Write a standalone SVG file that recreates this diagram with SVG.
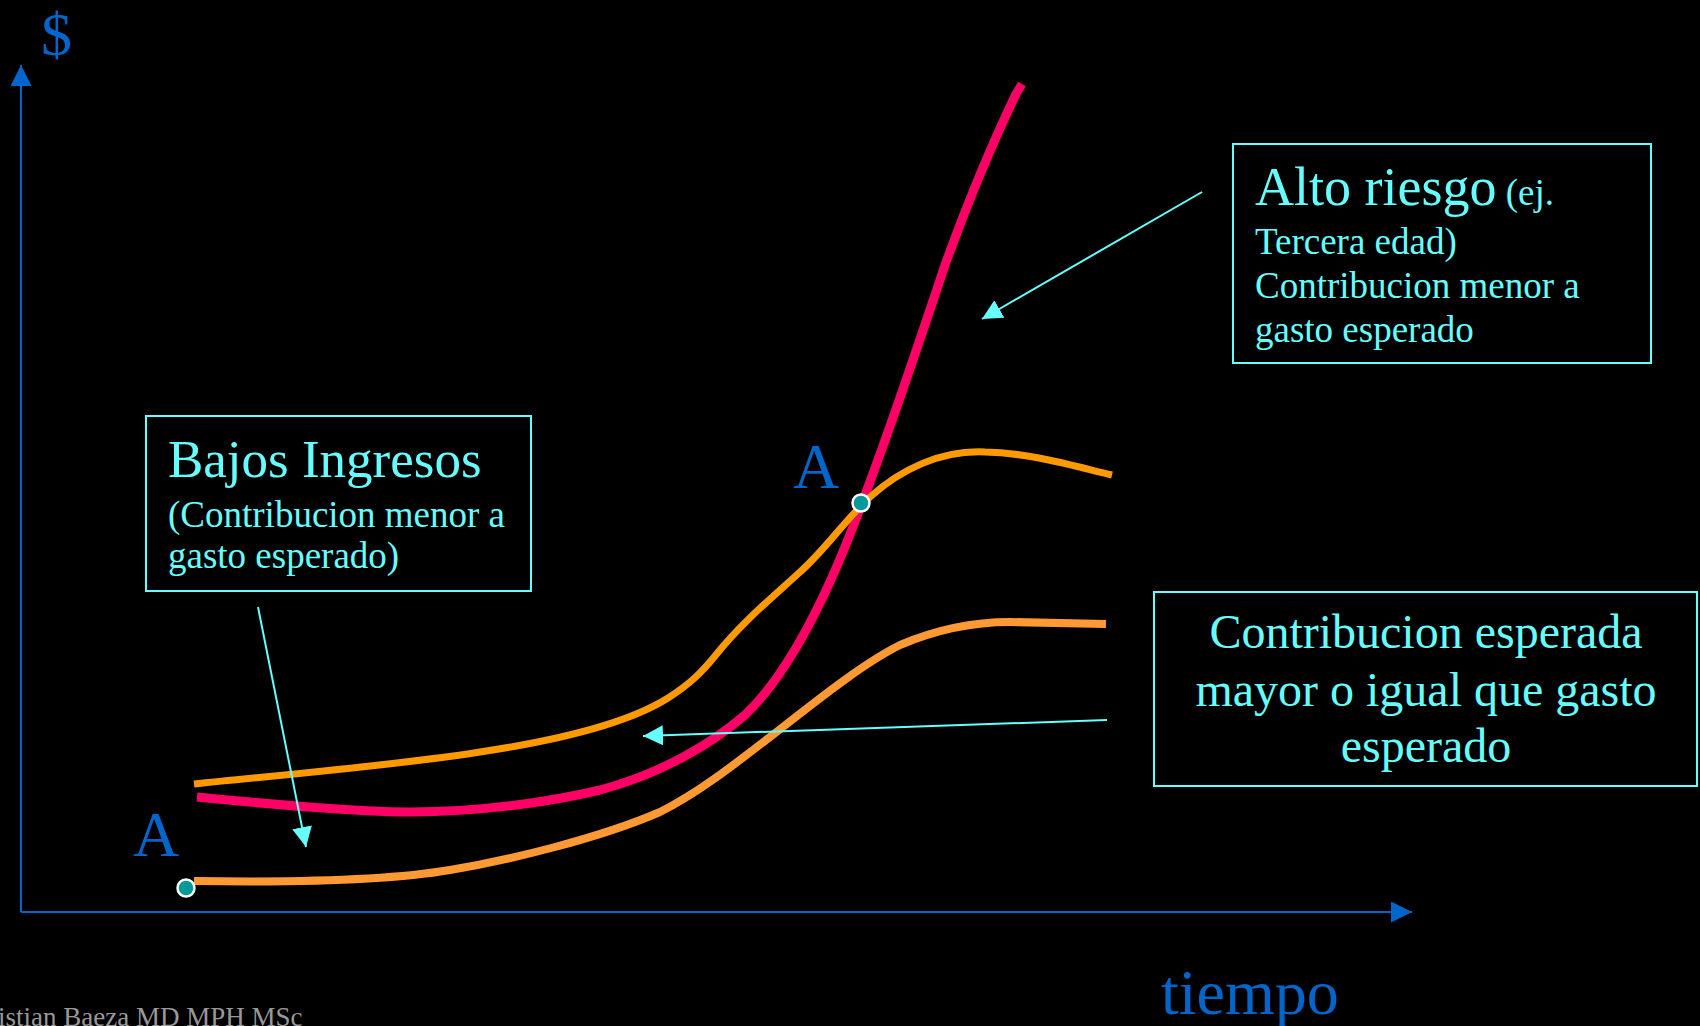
<svg xmlns="http://www.w3.org/2000/svg" width="1700" height="1026" viewBox="0 0 1700 1026">
  <style>
    .serif { font-family: "Liberation Serif", "Times New Roman", serif; }
    .blue { fill: #0066CC; }
    .cyan { fill: #66FFFF; }
    .box { fill: none; stroke: #66FFFF; stroke-width: 2; }
    .axis { stroke: #0066CC; stroke-width: 2; fill: none; }
    .lead { stroke: #66FFFF; stroke-width: 2; fill: none; }
    .curve { fill: none; stroke-linecap: butt; stroke-linejoin: round; }
    .dot { fill: #009999; stroke: #FFFFFF; stroke-width: 2.5; }
  </style>
  <defs>
    <marker id="cyanHead" markerUnits="userSpaceOnUse" markerWidth="21" markerHeight="21" refX="20" refY="10" orient="auto">
      <path d="M0,0 L20,10 L0,20 Z" fill="#66FFFF"/>
    </marker>
    <marker id="blueHead" markerUnits="userSpaceOnUse" markerWidth="22" markerHeight="22" refX="21" refY="10.5" orient="auto">
      <path d="M0,0 L21,10.5 L0,21 Z" fill="#0066CC"/>
    </marker>
  </defs>
  <rect x="0" y="0" width="1700" height="1026" fill="#000000"/>

  <g id="axes">
    <path class="axis" d="M21,912 L21,65" marker-end="url(#blueHead)"/>
    <path class="axis" d="M21,912 L1412,912" marker-end="url(#blueHead)"/>
    <text class="serif blue" x="41" y="55" font-size="62">$</text>
    <text class="serif blue" x="1161" y="1014" font-size="64">tiempo</text>
  </g>

  <g id="curves">
    <path id="curve-bottom" class="curve" stroke="#FF9933" stroke-width="8" d="M194,881 C260,882 380,882 450,870 C510,860 600,838 660,812 C700,792 740,760 770,737 C810,706 860,665 900,645 C940,628 980,622 1010,622 L1106,624"/>
    <path id="curve-pink" class="curve" stroke="#FF0066" stroke-width="9" d="M197,797 C260,803 350,812 410,812 C480,812 550,802 600,790 C660,774 710,745 745,715 C790,672 830,590 862,503 C890,430 920,340 945,265 C965,210 990,148 1016,94 L1022,84"/>
    <path id="curve-top" class="curve" stroke="#FF9900" stroke-width="7" d="M194,784 C280,775 400,765 480,752 C560,740 630,722 668,698 C690,684 702,672 715,656 C742,622 775,595 800,572 C825,550 845,520 870,497 C900,470 940,450 985,452 C1030,453 1070,465 1112,475"/>
  </g>

  <g id="point-a-low">
    <circle class="dot" cx="186" cy="888" r="8.5"/>
    <text class="serif blue" x="133" y="856" font-size="64">A</text>
  </g>
  <g id="point-a-mid">
    <circle class="dot" cx="861" cy="503" r="8.5"/>
    <text class="serif blue" x="793" y="488" font-size="64">A</text>
  </g>

  <g id="box-alto-riesgo">
    <rect class="box" x="1233" y="144" width="418" height="219"/>
    <text class="serif cyan" x="1255" y="205"><tspan font-size="54">Alto riesgo</tspan><tspan font-size="37"> (ej.</tspan></text>
    <text class="serif cyan" x="1255" y="254" font-size="37">Tercera edad)</text>
    <text class="serif cyan" x="1255" y="298" font-size="37">Contribucion menor a</text>
    <text class="serif cyan" x="1255" y="342" font-size="37">gasto esperado</text>
  </g>

  <g id="box-bajos-ingresos">
    <rect class="box" x="146" y="416" width="385" height="175"/>
    <text class="serif cyan" x="168" y="477" font-size="53">Bajos Ingresos</text>
    <text class="serif cyan" x="168" y="527" font-size="37">(Contribucion menor a</text>
    <text class="serif cyan" x="168" y="568" font-size="37">gasto esperado)</text>
  </g>

  <g id="box-contribucion">
    <rect class="box" x="1154" y="592" width="543" height="194"/>
    <text class="serif cyan" x="1426" y="648" font-size="48" text-anchor="middle">Contribucion esperada</text>
    <text class="serif cyan" x="1426" y="706" font-size="48" text-anchor="middle">mayor o igual que gasto</text>
    <text class="serif cyan" x="1426" y="762" font-size="48" text-anchor="middle">esperado</text>
  </g>

  <g id="connectors">
    <path class="lead" d="M1202,192 L982,319" marker-end="url(#cyanHead)"/>
    <path class="lead" d="M258,607 L306,847" marker-end="url(#cyanHead)"/>
    <path class="lead" d="M1107,720 L643,736" marker-end="url(#cyanHead)"/>
  </g>

  <text class="serif" x="-2" y="1026" font-size="27" fill="#999999">istian Baeza MD MPH MSc</text>
</svg>
